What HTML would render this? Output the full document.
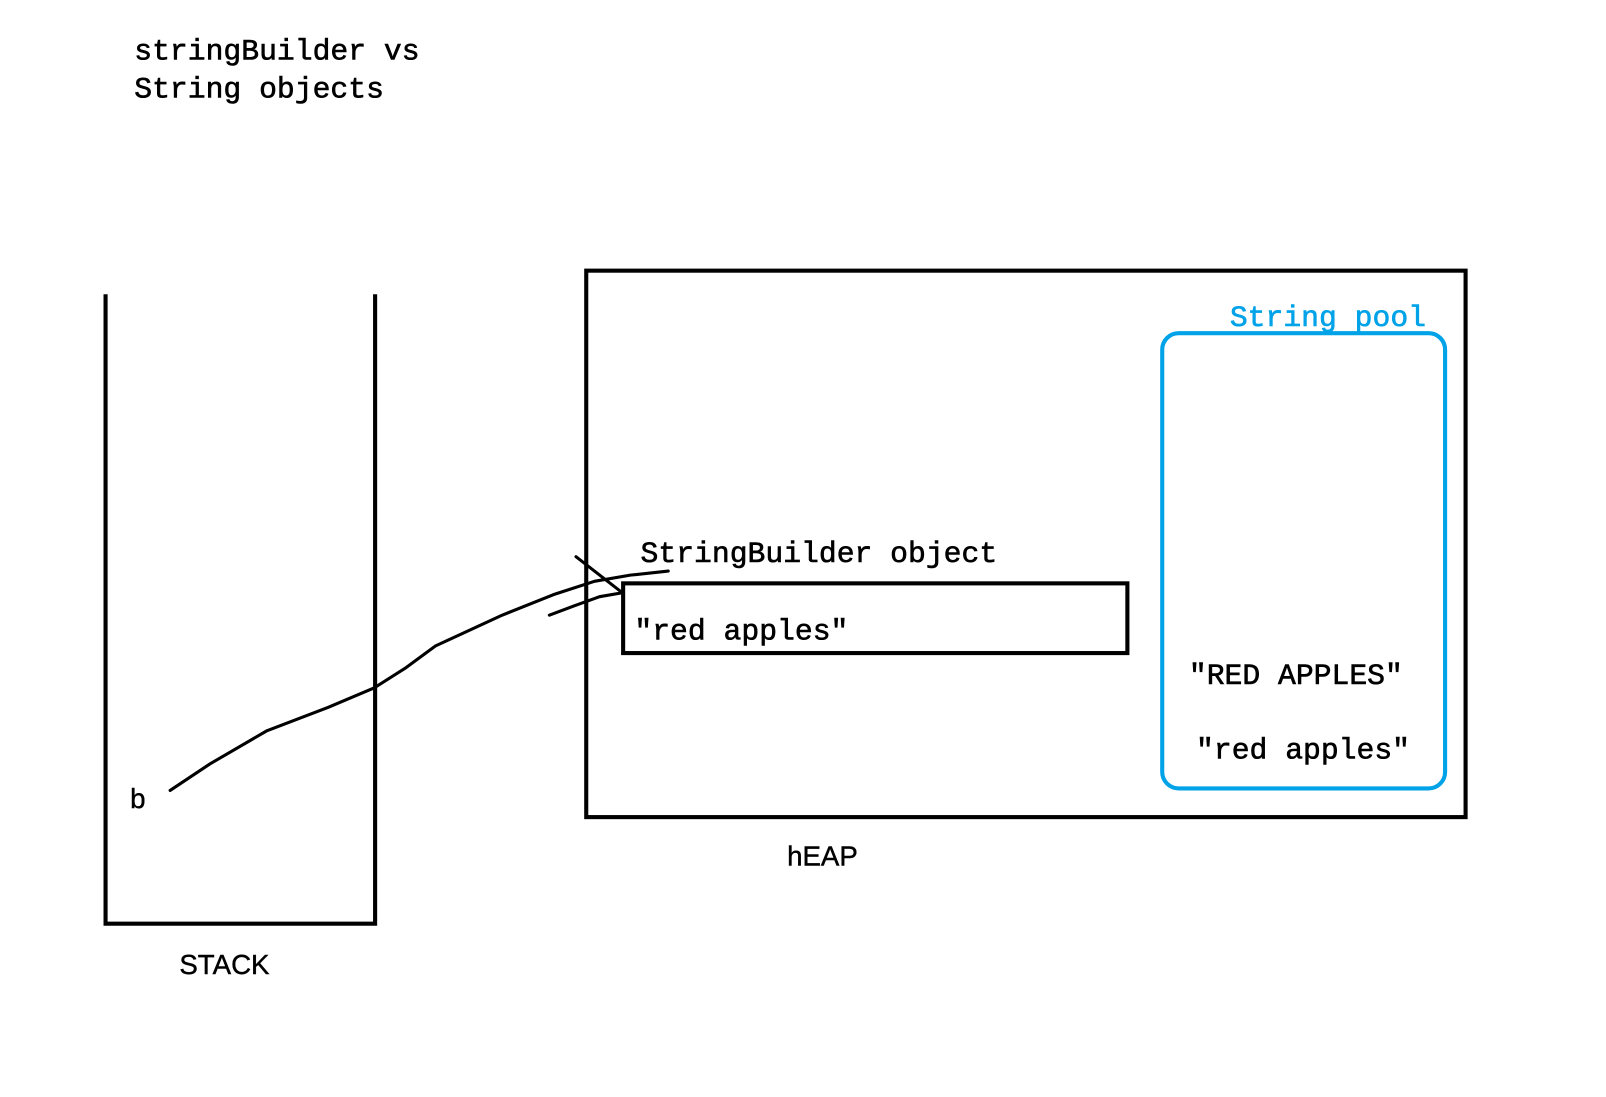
<!DOCTYPE html>
<html><head><meta charset="utf-8"><style>html,body{margin:0;padding:0;background:#fff;width:1606px;height:1097px;overflow:hidden}</style></head>
<body>
<svg width="1606" height="1097" viewBox="0 0 1567 1070" preserveAspectRatio="none" xmlns="http://www.w3.org/2000/svg">
<g font-family="Liberation Mono, monospace" font-size="29" fill="#000" stroke="#000" stroke-width="0.6">
<text x="131" y="58">stringBuilder vs</text>
<text x="131" y="95">String objects</text>
<text x="625" y="548">StringBuilder object</text>
<text x="619" y="624">"red apples"</text>
<text x="1160" y="667">"RED APPLES"</text>
<text x="1167" y="740">"red apples"</text>
<text x="1200" y="318" fill="#00a2e8" stroke="#00a2e8">String pool</text>
</g>
<g font-family="Liberation Sans, sans-serif" font-size="27" fill="#000" stroke="#000" stroke-width="0.4">
<text x="127" y="788">b</text>
<text x="175" y="950">STACK</text>
<text x="768" y="844">hEAP</text>
</g>
<g fill="none" stroke="#000" stroke-width="4">
<path d="M103 287 V901 H366 V287"/>
<rect x="572" y="264" width="858" height="533"/>
<rect x="608" y="569" width="492" height="68"/>
</g>
<rect x="1134" y="325" width="276" height="444" rx="16" fill="none" stroke="#00a2e8" stroke-width="4"/>
<g fill="none" stroke="#000" stroke-width="3" stroke-linecap="round" stroke-linejoin="round">
<path d="M166 771 L205 745 L260 713 L320 690 L365 671 L395 652 L425 630 L490 600 L540 580 L580 567 L615 561 L652 557"/>
<path d="M536 600 L560 591 L585 582 L608 578"/>
<path d="M562 543 L607 578"/>
</g>
</svg>
</body></html>
